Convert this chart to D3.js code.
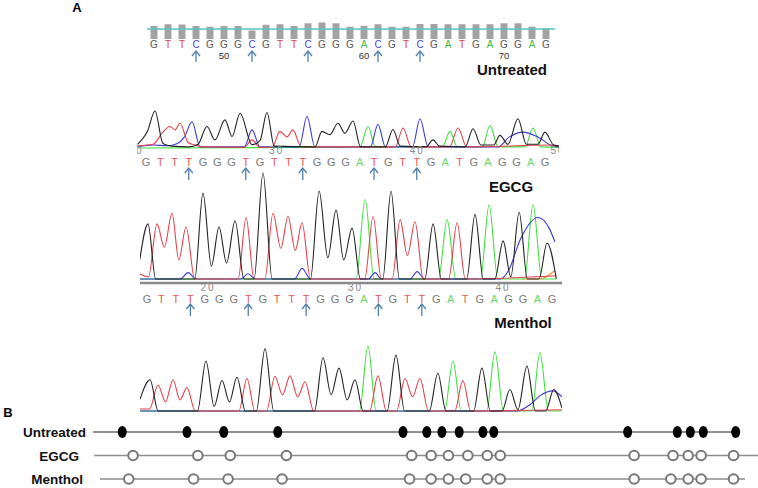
<!DOCTYPE html>
<html>
<head>
<meta charset="utf-8">
<script src="https://cdn.jsdelivr.net/npm/d3@7"></script>
<style>
  body { margin: 0; background: #fff; }
  text { font-family: "Liberation Sans", Arial, sans-serif; }
</style>
</head>
<body>
<svg id="fig"></svg>
<script>
// sequences (reference and bisulfite converted)
const topSeq = 'GTTCGGGCGTTCGGGACGTCGATGAGGAG'.split('');
const bisSeq = 'GTTTGGGTGTTTGGGATGTTGATGAGGAG'.split('');
const cpgIdx = [3, 7, 11, 16, 19];

// quality bars of the untreated read
const topQV = [52, 59, 58, 52, 49, 52, 52, 34, 57, 59, 52, 63, 66, 63, 49, 53, 59, 49, 49, 60, 60, 59, 59, 59, 59, 63, 63, 49, 43];
const qvThreshold = 40;
const topTicks = [50, 60, 70];
const egcgTicks = [20, 30, 40, 50];
const mentholTicks = [20, 30, 40];

// chromatogram traces: [base index, signal 0-100]
const egcgG = [[-0.6,10],[0.1,45],[0.63,100],[1.19,12],[1.8,5],[3.0,3],[3.65,10],[4.28,58],[4.84,22],[5.54,76],[6.04,31],[6.6,94],[7.44,9],[8.0,20],[8.49,96],[9.0,5],[11.86,3],[12.35,45],[12.9,36],[13.47,67],[13.96,40],[14.53,73],[15.05,3],[16.8,3],[17.33,50],[17.85,5],[19.65,3],[20.14,22],[20.6,5],[22.4,3],[22.95,52],[23.5,8],[24.4,8],[24.84,34],[25.4,10],[26.1,79],[26.7,10],[27.5,10],[28.0,43],[28.6,8],[29,5]];
const egcgT = [[-0.6,6],[0.5,10],[1.12,40],[1.68,58],[2.04,49],[2.39,67],[2.95,15],[3.4,8],[4.0,3],[6.9,2],[7.44,22],[8.0,2],[8.85,2],[9.4,45],[9.9,30],[10.3,49],[10.9,3],[17.5,3],[18.04,54],[18.6,3],[21.3,3],[21.9,54],[22.5,3],[28.5,8],[29,5]];
const egcgC = [[-0.6,3],[0.5,8],[1.5,6],[2.2,12],[2.7,30],[3.23,71],[3.8,3],[6.9,3],[7.44,49],[8.0,3],[10.75,3],[11.3,85],[11.85,3],[15.75,3],[16.28,64],[16.8,3],[18.7,3],[19.23,79],[19.8,3],[24.7,3],[25.5,30],[26.46,43],[27.5,30],[28.56,5],[29,3]];
const egcgA = [[-0.6,0],[15.0,2],[15.58,58],[16.1,3],[20.8,3],[21.33,45],[21.85,3],[23.6,3],[24.14,61],[24.7,3],[26.6,3],[27.16,54],[27.7,3],[29,2]];

const menG = [[-0.5,18],[0.07,52],[0.6,0],[3.3,0],[3.87,81],[4.45,12],[4.98,49],[5.5,15],[6.09,55],[6.7,0],[7.4,0],[8.02,100],[8.65,0],[11.3,0],[11.9,83],[12.5,20],[13.07,65],[13.6,18],[14.18,48],[14.75,0],[16.3,0],[16.87,83],[17.45,0],[19.2,0],[19.78,52],[20.35,0],[22.1,0],[22.68,61],[23.25,0],[24.05,0],[24.62,36],[25.15,2],[25.73,63],[26.3,0],[27.1,0],[27.66,34],[28.3,0]];
const menT = [[-0.5,5],[0.1,2],[0.69,52],[1.2,30],[1.73,62],[2.2,18],[2.7,49],[3.3,0],[6.3,0],[6.85,58],[7.4,0],[8.15,0],[8.71,62],[9.25,29],[9.75,59],[10.25,27],[10.72,53],[11.3,0],[15.05,0],[15.63,59],[16.2,0],[16.95,0],[17.5,56],[18.0,22],[18.53,54],[19.1,0],[20.85,0],[21.44,53],[22.0,0],[28.3,3]];
const menA = [[-0.5,0],[14.45,0],[15.08,75],[15.7,0],[20.15,0],[20.75,56],[21.35,0],[23.05,0],[23.65,70],[24.25,0],[26.1,0],[26.69,70],[27.3,0],[28.3,0]];
const menC = [[-0.5,0],[2.3,0],[2.84,6],[3.4,0],[6.5,0],[6.98,5],[7.5,0],[10.2,0],[10.72,10],[11.3,0],[15.3,0],[15.77,6],[16.2,0],[18.2,0],[18.67,7],[19.2,0],[24.4,0],[25.0,8],[25.8,37],[27.04,58],[27.8,48],[28.2,35]];
const menX = [[26.0,0],[27.2,0],[28.2,8]];

const lowG = [[-0.55,18],[0.14,48],[0.7,0],[3.4,0],[3.99,77],[4.55,7],[5.09,47],[5.6,14],[6.12,52],[6.7,0],[7.45,0],[8.05,96],[8.65,0],[11.45,0],[12.04,82],[12.6,25],[13.14,66],[13.7,17],[14.24,48],[14.8,0],[16.45,0],[17.06,86],[17.65,0],[19.35,0],[19.94,58],[20.5,0],[22.4,0],[22.97,66],[23.55,0],[24.35,0],[24.9,33],[25.45,2],[26.07,69],[26.65,0],[27.35,0],[27.92,33],[28.47,5]];
const lowT = [[-0.55,3],[0.1,3],[0.69,40],[1.2,14],[1.72,48],[2.2,17],[2.68,36],[3.25,0],[6.25,0],[6.81,50],[7.35,0],[8.15,0],[8.73,53],[9.25,25],[9.77,54],[10.3,22],[10.8,45],[11.4,0],[15.25,0],[15.82,54],[16.4,0],[17.1,0],[17.68,50],[18.2,22],[18.71,50],[19.3,0],[21.1,0],[21.66,47],[22.2,0],[28.47,2]];
const lowA = [[-0.55,0],[14.55,0],[15.13,100],[15.7,0],[20.4,0],[20.98,77],[21.55,0],[23.3,0],[23.87,91],[24.45,0],[26.4,0],[26.96,90],[27.55,0],[28.47,0]];
const lowC = [[-0.55,0],[25.4,0],[26.3,10],[27.0,24],[27.85,31],[28.47,22]];

// panel B: CpG site positions (bp) and line extents
const rowNames = ['Untreated', 'EGCG', 'Menthol'];
const sitesUntreated = [14, 44, 61, 86, 144, 155, 162, 170, 181, 186, 248, 271, 277, 283, 298];
const sitesEGCG = [19, 49, 64, 90, 148, 157, 165, 174, 183, 189, 251, 269, 276, 282, 297];
const sitesMenthol = [17, 47, 63, 88, 147, 157, 165, 173, 183, 189, 251, 268, 276, 282, 297];
const rowExtent = [[0.5, 300], [1, 308.3], [3.7, 302.3]];

const baseColor = { G: '#555', T: '#e04545', C: '#4545cc', A: '#3fb83f' };
const bisColor = { G: '#777', T: '#e85a5a', C: '#4545cc', A: '#6cd66c' };
const traceColor = { G: '#222', T: '#e8404a', C: '#3a3ad6', A: '#3fe03f', X: '#e8902a' };
const arrowColor = '#4d7fae';

const svg = d3.select('#fig').attr('width', 758).attr('height', 488);
svg.append('rect').attr('width', 758).attr('height', 488).attr('fill', '#fff');

const defs = svg.append('defs');
function clip(id, x0, x1) {
  defs.append('clipPath').attr('id', id).append('rect')
    .attr('x', x0).attr('y', 0).attr('width', x1 - x0).attr('height', 488);
  return `url(#${id})`;
}

function drawArrow(g, x, y0, y1) {
  g.append('line').attr('x1', x).attr('x2', x).attr('y1', y0).attr('y2', y1)
    .attr('stroke', arrowColor).attr('stroke-width', 1.3);
  g.append('path').attr('d', `M${x - 4},${y0 + 5}L${x},${y0}L${x + 4},${y0 + 5}`)
    .attr('fill', 'none').attr('stroke', arrowColor).attr('stroke-width', 1.3);
}

function drawTraces(g, traces, x, y) {
  const line = d3.line().x(d => x(d[0])).y(d => y(d[1])).curve(d3.curveMonotoneX);
  traces.forEach(([data, key]) => {
    g.append('path').attr('d', line(data)).attr('fill', 'none')
      .attr('stroke', traceColor[key]).attr('stroke-width', 1.1);
  });
}

function drawSeq(g, seq, x, y, colors, font, size) {
  g.selectAll(null).data(seq).enter().append('text')
    .attr('x', (d, i) => x(i)).attr('y', y)
    .attr('text-anchor', 'middle').attr('font-family', font).attr('font-size', size)
    .attr('fill', d => colors[d]).text(d => d);
}

// panel label
svg.append('text').attr('x', 77).attr('y', 12).attr('text-anchor', 'middle')
  .attr('font-size', 13).attr('font-weight', 'bold').text('A');

// ---- untreated read
const xTop = d3.scaleLinear().domain([0, 28]).range([154, 546]);
const yTop = d3.scaleLinear().domain([0, 66]).range([39, 22.5]);
const gTop = svg.append('g');
gTop.selectAll('rect').data(topQV).enter().append('rect')
  .attr('x', (d, i) => xTop(i) - 3.5).attr('y', d => yTop(d))
  .attr('width', 7).attr('height', d => yTop(0) - yTop(d)).attr('fill', '#a3a3a3');
gTop.append('line').attr('x1', 147).attr('x2', 555)
  .attr('y1', yTop(qvThreshold)).attr('y2', yTop(qvThreshold))
  .attr('stroke', '#5cc3c3').attr('stroke-width', 1.3);
drawSeq(gTop, topSeq, xTop, 47.5, baseColor, '"Liberation Sans", Arial, sans-serif', 10);
gTop.selectAll('.tick').data(topTicks).enter().append('text')
  .attr('x', d => xTop(d - 45)).attr('y', 58.5).attr('text-anchor', 'middle')
  .attr('font-size', 9.5).attr('fill', '#333').text(d => d);
cpgIdx.forEach(i => drawArrow(gTop, xTop(i), 51, 62));
gTop.append('text').attr('x', 512).attr('y', 75).attr('text-anchor', 'middle')
  .attr('font-size', 15).attr('font-weight', 'bold').attr('fill', '#111').text('Untreated');

// ---- EGCG read
const mono = '"Liberation Mono", "DejaVu Sans Mono", monospace';
const xE = d3.scaleLinear().domain([0, 28]).range([146, 545]);
const yE = d3.scaleLinear().domain([0, 100]).range([148, 111]);
const tE = d3.scaleLinear().domain([20, 50]).range([136, 558]);
const gE = svg.append('g').attr('clip-path', clip('clipE', 137, 559));
drawTraces(gE, [[egcgA, 'A'], [egcgC, 'C'], [egcgT, 'T'], [egcgG, 'G']], xE, yE);
gE.selectAll('.tick').data(egcgTicks).enter().append('text')
  .attr('x', d => tE(d)).attr('y', 154).attr('text-anchor', 'middle')
  .attr('font-family', mono).attr('font-size', 10).attr('letter-spacing', 2)
  .attr('fill', '#888').text(d => d);
const gE2 = svg.append('g');
drawSeq(gE2, bisSeq, xE, 166, bisColor, mono, 11);
cpgIdx.forEach(i => drawArrow(gE2, xE(i), 168, 180));
gE2.append('text').attr('x', 511).attr('y', 192).attr('text-anchor', 'middle')
  .attr('font-size', 15).attr('font-weight', 'bold').attr('fill', '#111').text('EGCG');

// ---- Menthol read
const xM = d3.scaleLinear().domain([0, 28]).range([147, 552]);
const yM = d3.scaleLinear().domain([0, 100]).range([279, 173]);
const tM = d3.scaleLinear().domain([20, 40]).range([208, 503]);
const gM = svg.append('g').attr('clip-path', clip('clipM', 140, 562));
drawTraces(gM, [[menX, 'X'], [menA, 'A'], [menC, 'C'], [menT, 'T'], [menG, 'G']], xM, yM);
const gM2 = svg.append('g');
gM2.append('line').attr('x1', 140).attr('x2', 562).attr('y1', 283).attr('y2', 283)
  .attr('stroke', '#8a8a8a').attr('stroke-width', 2.5);
gM2.selectAll('.tick').data(mentholTicks).enter().append('text')
  .attr('x', d => tM(d)).attr('y', 291).attr('text-anchor', 'middle')
  .attr('font-family', mono).attr('font-size', 10).attr('letter-spacing', 2)
  .attr('fill', '#888').text(d => d);
drawSeq(gM2, bisSeq, xM, 303, bisColor, mono, 11);
cpgIdx.forEach(i => drawArrow(gM2, xM(i), 304, 316));
gM2.append('text').attr('x', 523).attr('y', 328).attr('text-anchor', 'middle')
  .attr('font-size', 15).attr('font-weight', 'bold').attr('fill', '#111').text('Menthol');

// ---- lower trace
const xL = d3.scaleLinear().domain([0, 28]).range([148, 555]);
const yL = d3.scaleLinear().domain([0, 100]).range([411, 346]);
const gL = svg.append('g').attr('clip-path', clip('clipL', 140, 562));
drawTraces(gL, [[lowA, 'A'], [lowC, 'C'], [lowT, 'T'], [lowG, 'G']], xL, yL);

// ---- panel B
svg.append('text').attr('x', 8).attr('y', 417).attr('text-anchor', 'middle')
  .attr('font-size', 13).attr('font-weight', 'bold').text('B');
const xB = d3.scaleLinear().domain([0, 300]).range([92, 740]);
const yB = d3.scalePoint().domain(rowNames).range([432, 479]);
const rowSites = [sitesUntreated, sitesEGCG, sitesMenthol];
const gB = svg.append('g');
rowNames.forEach((name, r) => {
  const y = yB(name);
  gB.append('line').attr('x1', xB(rowExtent[r][0])).attr('x2', xB(rowExtent[r][1]))
    .attr('y1', y).attr('y2', y)
    .attr('stroke', r === 0 ? '#6a6a6a' : '#8c8c8c').attr('stroke-width', 1.6);
  gB.append('text').attr('x', r === 0 ? 86 : r === 1 ? 79 : 83).attr('y', y + 5)
    .attr('text-anchor', 'end').attr('font-size', 13.5).attr('font-weight', 'bold')
    .attr('fill', '#111').text(name);
  if (r === 0) {
    gB.selectAll(null).data(rowSites[r]).enter().append('ellipse')
      .attr('cx', d => xB(d)).attr('cy', y).attr('rx', 4.5).attr('ry', 6).attr('fill', '#000');
  } else {
    gB.selectAll(null).data(rowSites[r]).enter().append('circle')
      .attr('cx', d => xB(d)).attr('cy', y).attr('r', 4.8)
      .attr('fill', '#fff').attr('stroke', '#777').attr('stroke-width', 2);
  }
});
</script>
</body>
</html>
